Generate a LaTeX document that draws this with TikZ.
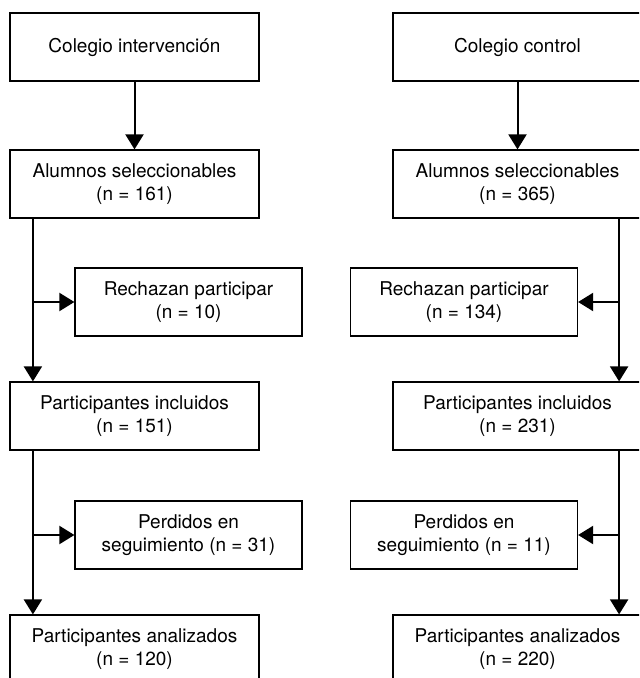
\documentclass[tikz,border=0pt]{standalone}
\usepackage{fontspec}
\setmainfont{TeX Gyre Heros}
\usetikzlibrary{positioning}
\usetikzlibrary{arrows.meta}

\tikzset{
    mainbox/.style={draw, line width=0.6pt, minimum width=124.5pt, minimum height=34pt, align=center, font=\fontsize{9.5}{11.2}\selectfont},
    sidebox/.style={mainbox, minimum width=113.5pt},
    arr/.style={-{Triangle[length=7.5pt,width=9pt]}, line width=1pt},
}

\begin{document}
\begin{tikzpicture}[x=0.5pt, y=-0.5pt]
    \useasboundingbox (0,0) rectangle (639,678);
    \clip (0,0) rectangle (639,678);

    % intervention column
    \node[mainbox] (i1) at (134.5,47) {Colegio intervención};
    \node[mainbox] (i2) at (134.5,184) {Alumnos seleccionables\\(n = 161)};
    \node[sidebox] (i3) at (188.5,302) {Rechazan participar\\(n = 10)};
    \node[mainbox] (i4) at (134.5,416) {Participantes incluidos\\(n = 151)};
    \node[sidebox] (i5) at (188.5,535) {Perdidos en\\seguimiento (n = 31)};
    \node[mainbox] (i6) at (134.5,649) {Participantes analizados\\(n = 120)};

    % control column
    \node[mainbox] (c1) at (517.5,47) {Colegio control};
    \node[mainbox] (c2) at (517.5,184) {Alumnos seleccionables\\(n = 365)};
    \node[sidebox] (c3) at (464,302) {Rechazan participar\\(n = 134)};
    \node[mainbox] (c4) at (517.5,416) {Participantes incluidos\\(n = 231)};
    \node[sidebox] (c5) at (464,535) {Perdidos en\\seguimiento (n = 11)};
    \node[mainbox] (c6) at (517.5,649) {Participantes analizados\\(n = 220)};

    \coordinate (il) at ([xshift=11.75pt]i2.south west);
    \coordinate (cl) at ([xshift=-11.75pt]c2.south east);

    \draw[arr] (i1) -- (i2);
    \draw[arr] (il) -- (il |- i4.north);
    \draw[arr] (il |- i3.west) -- (i3.west);
    \draw[arr] (il |- i4.south) -- (il |- i6.north);
    \draw[arr] (il |- i5.west) -- (i5.west);

    \draw[arr] (c1) -- (c2);
    \draw[arr] (cl) -- (cl |- c4.north);
    \draw[arr] (cl |- c3.east) -- (c3.east);
    \draw[arr] (cl |- c4.south) -- (cl |- c6.north);
    \draw[arr] (cl |- c5.east) -- (c5.east);
\end{tikzpicture}
\end{document}
